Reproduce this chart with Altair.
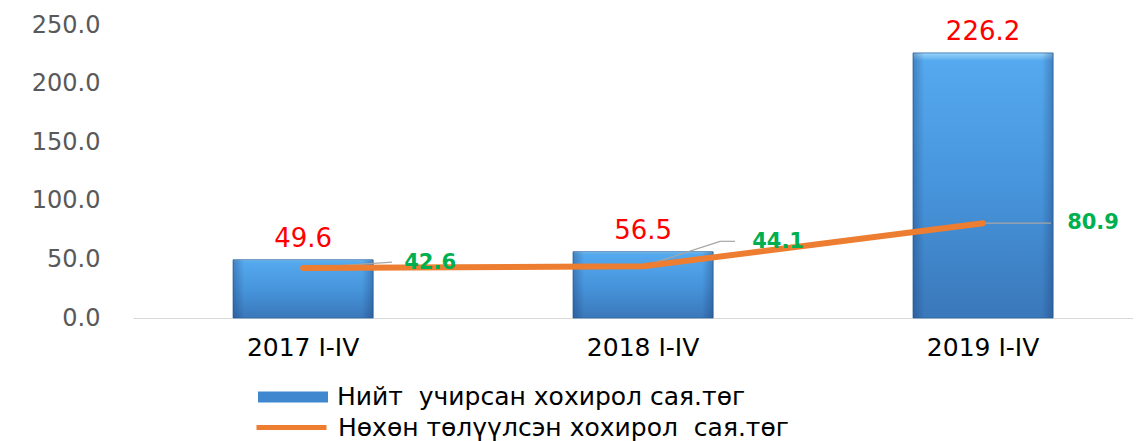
import altair as alt
import pandas as pd

categories = ["2017 I-IV", "2018 I-IV", "2019 I-IV"]
total_loss = [49.6, 56.5, 226.2]
compensated = [42.6, 44.1, 80.9]
series_bar = "Нийт\u00a0 учирсан хохирол сая.төг"
series_line = "Нөхөн төлүүлсэн хохирол\u00a0 сая.төг"
y_ticks = [0, 50, 100, 150, 200, 250]

df = pd.DataFrame({
    "cat": categories,
    "total": total_loss,
    "comp": compensated,
    "s_bar": [series_bar] * 3,
    "s_line": [series_line] * 3,
})

FONT = "DejaVu Sans"

x_enc = alt.X(
    "cat:N",
    sort=categories,
    scale=alt.Scale(paddingInner=0.588, paddingOuter=0.2647, align=0.556),
    axis=alt.Axis(title=None, labelAngle=0, labelFontSize=25, labelColor="#000000",
                  labelFont=FONT, ticks=False, domainColor="#d9d9d9", domainWidth=1.2,
                  labelPadding=17),
)
y_enc = alt.Y(
    "total:Q",
    scale=alt.Scale(domain=[0, 250], nice=False),
    axis=alt.Axis(title=None, values=y_ticks, format=".1f", labelFontSize=24,
                  labelColor="#595959", labelFont=FONT, grid=False, domain=False,
                  ticks=False, labelPadding=33),
)

base = alt.Chart(df)

bar_legend = base.mark_bar().encode(
    x=x_enc,
    y=y_enc,
    fill=alt.Fill("s_bar:N", scale=alt.Scale(range=["#3f88d0"]),
                  legend=alt.Legend(title=None, orient="none", legendX=125, legendY=337,
                                    symbolType="M-1,-0.16L1,-0.16L1,0.16L-1,0.16Z",
                                    symbolSize=4900, symbolStrokeWidth=0,
                                    labelFontSize=25, labelFont=FONT, labelColor="#000000",
                                    labelLimit=0, labelOffset=9, padding=0)),
)

vgrad = alt.Gradient(
    gradient="linear", x1=0, y1=0, x2=0, y2=1,
    stops=[alt.GradientStop(color="#9ad6fa", offset=0),
           alt.GradientStop(color="#55a9ee", offset=0.03),
           alt.GradientStop(color="#4795dc", offset=0.5),
           alt.GradientStop(color="#3a78ba", offset=1)],
)
hgrad = alt.Gradient(
    gradient="linear", x1=0, y1=0, x2=1, y2=0,
    stops=[alt.GradientStop(color="rgba(20,40,90,0.30)", offset=0),
           alt.GradientStop(color="rgba(20,40,90,0)", offset=0.08),
           alt.GradientStop(color="rgba(20,40,90,0)", offset=0.92),
           alt.GradientStop(color="rgba(20,40,90,0.30)", offset=1)],
)
bar_grad = base.mark_bar(color=vgrad, stroke="#2f6aa6", strokeWidth=0.8).encode(x=x_enc, y=y_enc)
bar_edge = base.mark_bar(color=hgrad).encode(x=x_enc, y=y_enc)

leader_specs = [
    (categories[0], 89, -6),
    (categories[1], 77, -25),
    (categories[2], 68, 0),
]
leaders = []
for cat, ox, oy in leader_specs:
    leaders.append(
        base.transform_filter(alt.datum.cat == cat)
        .mark_rule(color="#a6a6a6", strokeWidth=1.2, x2Offset=ox, y2Offset=oy)
        .encode(x=alt.X("cat:N", sort=categories), x2="cat:N",
                y=alt.Y("comp:Q"), y2="comp:Q")
    )
leaders.append(
    base.transform_filter(alt.datum.cat == categories[1])
    .mark_rule(color="#a6a6a6", strokeWidth=1.2, xOffset=77, yOffset=-25, x2Offset=92, y2Offset=-25)
    .encode(x=alt.X("cat:N", sort=categories), x2="cat:N",
            y=alt.Y("comp:Q"), y2="comp:Q")
)

line = base.mark_line(strokeWidth=6, strokeCap="round", strokeJoin="round").encode(
    x=alt.X("cat:N", sort=categories),
    y=alt.Y("comp:Q"),
    stroke=alt.Stroke("s_line:N", scale=alt.Scale(range=["#ed7d31"]),
                      legend=alt.Legend(title=None, orient="none", legendX=121, legendY=365,
                                        symbolType="stroke", symbolSize=4900,
                                        symbolStrokeWidth=5,
                                        labelFontSize=25, labelFont=FONT, labelColor="#000000",
                                        labelLimit=0, labelOffset=9, padding=0)),
)

red_labels = base.mark_text(fontSize=26, font=FONT, color="#ff0000", dy=-21, baseline="middle").encode(
    x=alt.X("cat:N", sort=categories),
    y=alt.Y("total:Q"),
    text=alt.Text("total:Q", format=".1f"),
)

green_specs = [
    (categories[0], 127, -5),
    (categories[1], 135, -24),
    (categories[2], 110, 0),
]
green_labels = []
for cat, dx, dy in green_specs:
    green_labels.append(
        base.transform_filter(alt.datum.cat == cat)
        .mark_text(fontSize=21, font=FONT, fontWeight="bold", color="#00b050",
                   dx=dx, dy=dy, baseline="middle")
        .encode(x=alt.X("cat:N", sort=categories), y=alt.Y("comp:Q"),
                text=alt.Text("comp:Q", format=".1f"))
    )

chart = alt.layer(
    bar_legend, bar_grad, bar_edge, *leaders, line, red_labels, *green_labels
).properties(
    width=1000,
    height=293,
    autosize=alt.AutoSizeParams(type="none"),
    padding={"left": 125, "top": 17, "right": 0, "bottom": 123},
    background="white",
).configure_view(strokeWidth=0, stroke="transparent")

chart.save("out.html", embed_options={"renderer": "svg", "actions": False})
